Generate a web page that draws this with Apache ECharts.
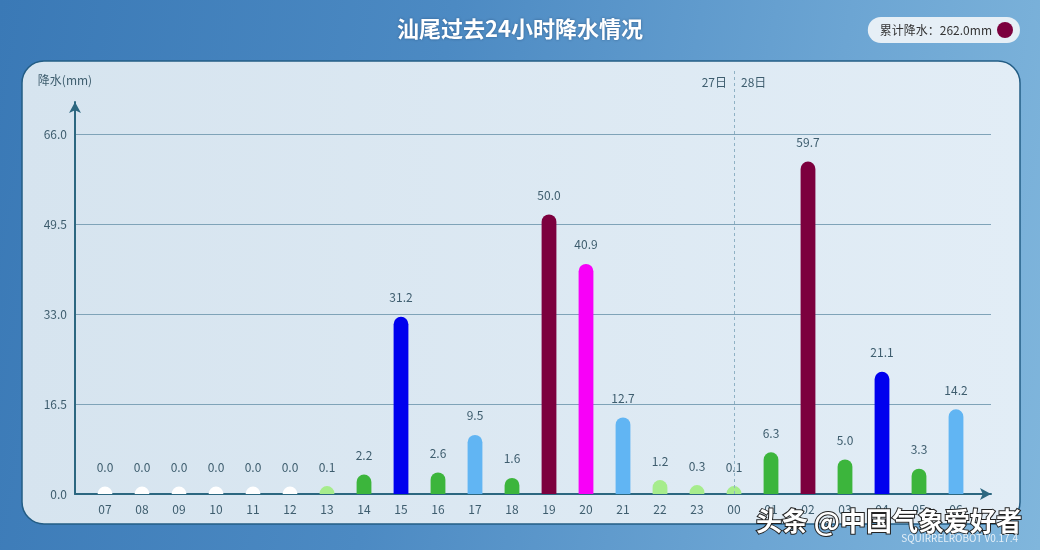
<!DOCTYPE html>
<html>
<head>
<meta charset="utf-8">
<script src="https://cdn.jsdelivr.net/npm/echarts@6/dist/echarts.min.js"></script>
<style>
  html, body { margin: 0; padding: 0; width: 1040px; height: 550px; overflow: hidden; }
  body { background: linear-gradient(100deg, #3a79b6 0%, #4c8ac3 40%, #6ca5d3 75%, #80b6dc 100%); }
  #chart { width: 1040px; height: 550px; }
</style>
</head>
<body>
<div id="chart"></div>
<script>
// Hourly rainfall at Shanwei, 07:00 on the 27th to 06:00 on the 28th
const hours = ['07','08','09','10','11','12','13','14','15','16','17','18',
               '19','20','21','22','23','00','01','02','03','04','05','06'];
const rain = [0.0, 0.0, 0.0, 0.0, 0.0, 0.0, 0.1, 2.2, 31.2, 2.6, 9.5, 1.6,
              50.0, 40.9, 12.7, 1.2, 0.3, 0.1, 6.3, 59.7, 5.0, 21.1, 3.3, 14.2];
const yTicks = [0, 16.5, 33, 49.5, 66];
const dayBefore = '27日';
const dayAfter = '28日';
const dividerHour = '00';

const total = rain.reduce((s, v) => s + v, 0);
const totalLabel = '累计降水：' + total.toFixed(1) + 'mm';

// rainfall grade colours
function rainColor(v) {
  if (v <= 0) return '#ffffff';
  if (v < 1.6) return '#a6ec8c';
  if (v < 7) return '#3cb53c';
  if (v < 15) return '#61b5f3';
  if (v < 40) return '#0000ee';
  if (v < 50) return '#f800f8';
  return '#7c003e';
}

const FONT = '"Noto Sans CJK SC", "Noto Sans", sans-serif';
const axisColor = '#2c6780';
const textColor = '#3e5d6e';
const tickStep = yTicks[1] - yTicks[0];

const chart = echarts.init(document.getElementById('chart'), null, { renderer: 'canvas' });

chart.setOption({
  backgroundColor: 'transparent',
  textStyle: { fontFamily: FONT },
  title: {
    text: '汕尾过去24小时降水情况',
    left: 'center',
    top: 13,
    textStyle: {
      color: '#ffffff', fontSize: 22, fontWeight: 'bold', fontFamily: FONT,
      textShadowColor: 'rgba(20,50,90,0.5)', textShadowBlur: 3
    }
  },
  legend: {
    data: [{ name: totalLabel, icon: 'circle' }],
    right: 20,
    top: 17,
    align: 'right',
    itemWidth: 16,
    itemHeight: 16,
    padding: [5, 7, 5, 12],
    backgroundColor: '#e6eff6',
    borderRadius: 13,
    selectedMode: false,
    textStyle: { color: '#333333', fontSize: 12, fontFamily: FONT }
  },
  graphic: [
    {
      type: 'rect', z: -10, silent: true,
      shape: { x: 22, y: 61, width: 998, height: 463, r: 22 },
      style: {
        fill: new echarts.graphic.LinearGradient(0, 0, 1, 0, [
          { offset: 0, color: '#d6e4ef' },
          { offset: 1, color: '#e2edf6' }
        ]),
        stroke: '#235d85', lineWidth: 1.5
      }
    },
    {
      type: 'text', z: 100, silent: true,
      style: {
        text: '头条 @中国气象爱好者', x: 1022, y: 521,
        align: 'right', verticalAlign: 'middle',
        fill: '#ffffff', font: 'bold 26px ' + FONT,
        stroke: '#222222', lineWidth: 2,
        shadowColor: 'rgba(0,0,0,0.6)', shadowBlur: 2, shadowOffsetX: 1, shadowOffsetY: 1
      }
    },
    {
      type: 'text', z: 100, silent: true,
      style: {
        text: 'SQUIRRELROBOT V0.17.4', x: 1018, y: 538,
        align: 'right', verticalAlign: 'middle',
        fill: '#e6f0f8', font: '10px ' + FONT
      }
    }
  ],
  grid: [
    { left: 75, right: 49, top: 102, bottom: 56 },
    { left: 86.5, right: 65.5, top: 69.33, bottom: 56 }
  ],
  xAxis: [
    {
      gridIndex: 0, type: 'value', min: 0, max: 1,
      axisLine: { show: true, symbol: ['none', 'arrow'], symbolSize: [9, 11],
                  lineStyle: { color: axisColor, width: 2 } },
      axisTick: { show: false }, axisLabel: { show: false }, splitLine: { show: false }
    },
    {
      gridIndex: 1, type: 'category', data: hours,
      axisLine: { show: false }, axisTick: { show: false },
      axisLabel: { color: textColor, fontSize: 12, margin: 9, fontFamily: FONT }
    }
  ],
  yAxis: [
    {
      gridIndex: 0, type: 'value', min: 0, max: 72, interval: tickStep,
      name: '降水(mm)', nameLocation: 'end', nameGap: 16,
      nameTextStyle: { color: textColor, fontSize: 12, align: 'center', padding: [0, 20, 0, 0], fontFamily: FONT },
      axisLine: { show: true, symbol: ['none', 'arrow'], symbolSize: [9, 11],
                  lineStyle: { color: axisColor, width: 2 } },
      axisTick: { show: false },
      axisLabel: { color: textColor, fontSize: 12, margin: 8, showMaxLabel: false,
                   formatter: v => v.toFixed(1), fontFamily: FONT },
      splitLine: { show: true, showMaxLine: false, showMinLine: false,
                   lineStyle: { color: '#7fa3b8', width: 1 } }
    },
    { gridIndex: 1, type: 'value', min: 0, max: 78, show: false }
  ],
  series: [
    {
      name: totalLabel,
      type: 'custom',
      xAxisIndex: 1, yAxisIndex: 1,
      itemStyle: { color: '#7c003e' },
      data: rain.map((v, i) => [i, v]),
      encode: { x: 0, y: 1 },
      renderItem: function (params, api) {
        const idx = api.value(0);
        const val = api.value(1);
        const top = api.coord([idx, val]);
        const base = api.coord([idx, 0]);
        const w = api.size([1, 0])[0] * 0.4;
        const r = w / 2;
        const capTop = top[1] - r;
        return {
          type: 'group',
          children: [
            {
              type: 'rect',
              shape: { x: top[0] - r, y: capTop, width: w, height: base[1] - capTop, r: [r, r, 0, 0] },
              style: { fill: rainColor(val) }
            },
            {
              type: 'text',
              style: {
                text: val.toFixed(1), x: top[0], y: capTop - 13,
                align: 'center', verticalAlign: 'bottom',
                fill: textColor, font: '12px ' + FONT
              }
            }
          ]
        };
      }
    },
    {
      name: 'day-divider',
      type: 'bar',
      xAxisIndex: 1, yAxisIndex: 1,
      data: hours.map(() => null),
      silent: true,
      markLine: {
        silent: true,
        symbol: ['none', 'none'],
        lineStyle: { color: '#8fb1c4', type: [3, 3], width: 1 },
        label: {
          show: true, position: 'end', distance: -19,
          formatter: '{a|' + dayBefore + '}{b|' + dayAfter + '}',
          rich: {
            a: { color: textColor, fontSize: 12, fontFamily: FONT, padding: [0, 7, 0, 0] },
            b: { color: textColor, fontSize: 12, fontFamily: FONT, padding: [0, 0, 0, 7] }
          }
        },
        data: [{ xAxis: dividerHour }]
      }
    }
  ]
});
</script>
</body>
</html>
